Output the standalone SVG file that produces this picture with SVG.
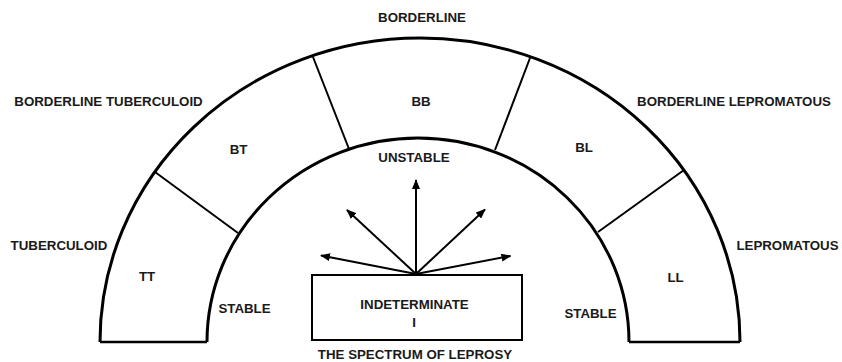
<svg xmlns="http://www.w3.org/2000/svg" width="842" height="362" viewBox="0 0 842 362">
  <style>
    .t { font-family: "Liberation Sans", Arial, sans-serif; font-weight: bold; font-size: 13.3px; fill: #1a1a1a; text-anchor: middle; }
    .arc { fill: none; stroke: #000; stroke-width: 3; }
    .div { fill: none; stroke: #000; stroke-width: 2; }
    .base { fill: none; stroke: #000; stroke-width: 2.5; }
    .box { fill: #fff; stroke: #000; stroke-width: 2; }
    .arrow { fill: none; stroke: #000; stroke-width: 2; marker-end: url(#ah); }
  </style>
  <defs>
    <marker id="ah" viewBox="0 0 10 8" refX="9" refY="4" markerWidth="5" markerHeight="4" orient="auto" markerUnits="strokeWidth">
      <path d="M0,0 L10,4 L0,8 Z" fill="#000"/>
    </marker>
  </defs>
  <rect width="842" height="362" fill="#fff"/>

  <g id="spectrum-band">
    <path class="arc" d="M100,342 A320,304 0 0 1 740,342"/>
    <path class="arc" d="M207,342 A211,204 0 0 1 629,342"/>
    <path class="base" d="M100,342 L207,342"/>
    <path class="base" d="M629,342 L740,342"/>
    <path class="div" d="M155,172 L238,233"/>
    <path class="div" d="M313,57 L349,149"/>
    <path class="div" d="M530,58 L495,150"/>
    <path class="div" d="M684,170 L598,232"/>
  </g>

  <g id="node-tt">
    <text class="t" x="147" y="281">TT</text>
    <text class="t" x="59" y="250">TUBERCULOID</text>
  </g>
  <g id="node-bt">
    <text class="t" x="238.5" y="154">BT</text>
    <text class="t" x="108.5" y="106">BORDERLINE TUBERCULOID</text>
  </g>
  <g id="node-bb">
    <text class="t" x="421" y="106">BB</text>
    <text class="t" x="422" y="21.5">BORDERLINE</text>
  </g>
  <g id="node-bl">
    <text class="t" x="584" y="152">BL</text>
    <text class="t" x="734" y="106">BORDERLINE LEPROMATOUS</text>
  </g>
  <g id="node-ll">
    <text class="t" x="675.5" y="282">LL</text>
    <text class="t" x="787.5" y="250">LEPROMATOUS</text>
  </g>

  <g id="label-unstable">
    <text class="t" x="414" y="162">UNSTABLE</text>
  </g>
  <g id="label-stable-left">
    <text class="t" x="244.5" y="313">STABLE</text>
  </g>
  <g id="label-stable-right">
    <text class="t" x="590.5" y="318">STABLE</text>
  </g>

  <g id="node-indeterminate">
    <rect class="box" x="312" y="275" width="210" height="65"/>
    <text class="t" x="414.5" y="309">INDETERMINATE</text>
    <text class="t" x="414" y="327">I</text>
  </g>

  <g id="title">
    <text class="t" x="415" y="358.5">THE SPECTRUM OF LEPROSY</text>
  </g>

  <g id="connectors">
    <line class="arrow" x1="416" y1="274" x2="416" y2="180"/>
    <line class="arrow" x1="416" y1="274" x2="347" y2="210"/>
    <line class="arrow" x1="416" y1="274" x2="321" y2="255.5"/>
    <line class="arrow" x1="416" y1="274" x2="485" y2="209.5"/>
    <line class="arrow" x1="416" y1="274" x2="510.5" y2="256"/>
  </g>
</svg>
